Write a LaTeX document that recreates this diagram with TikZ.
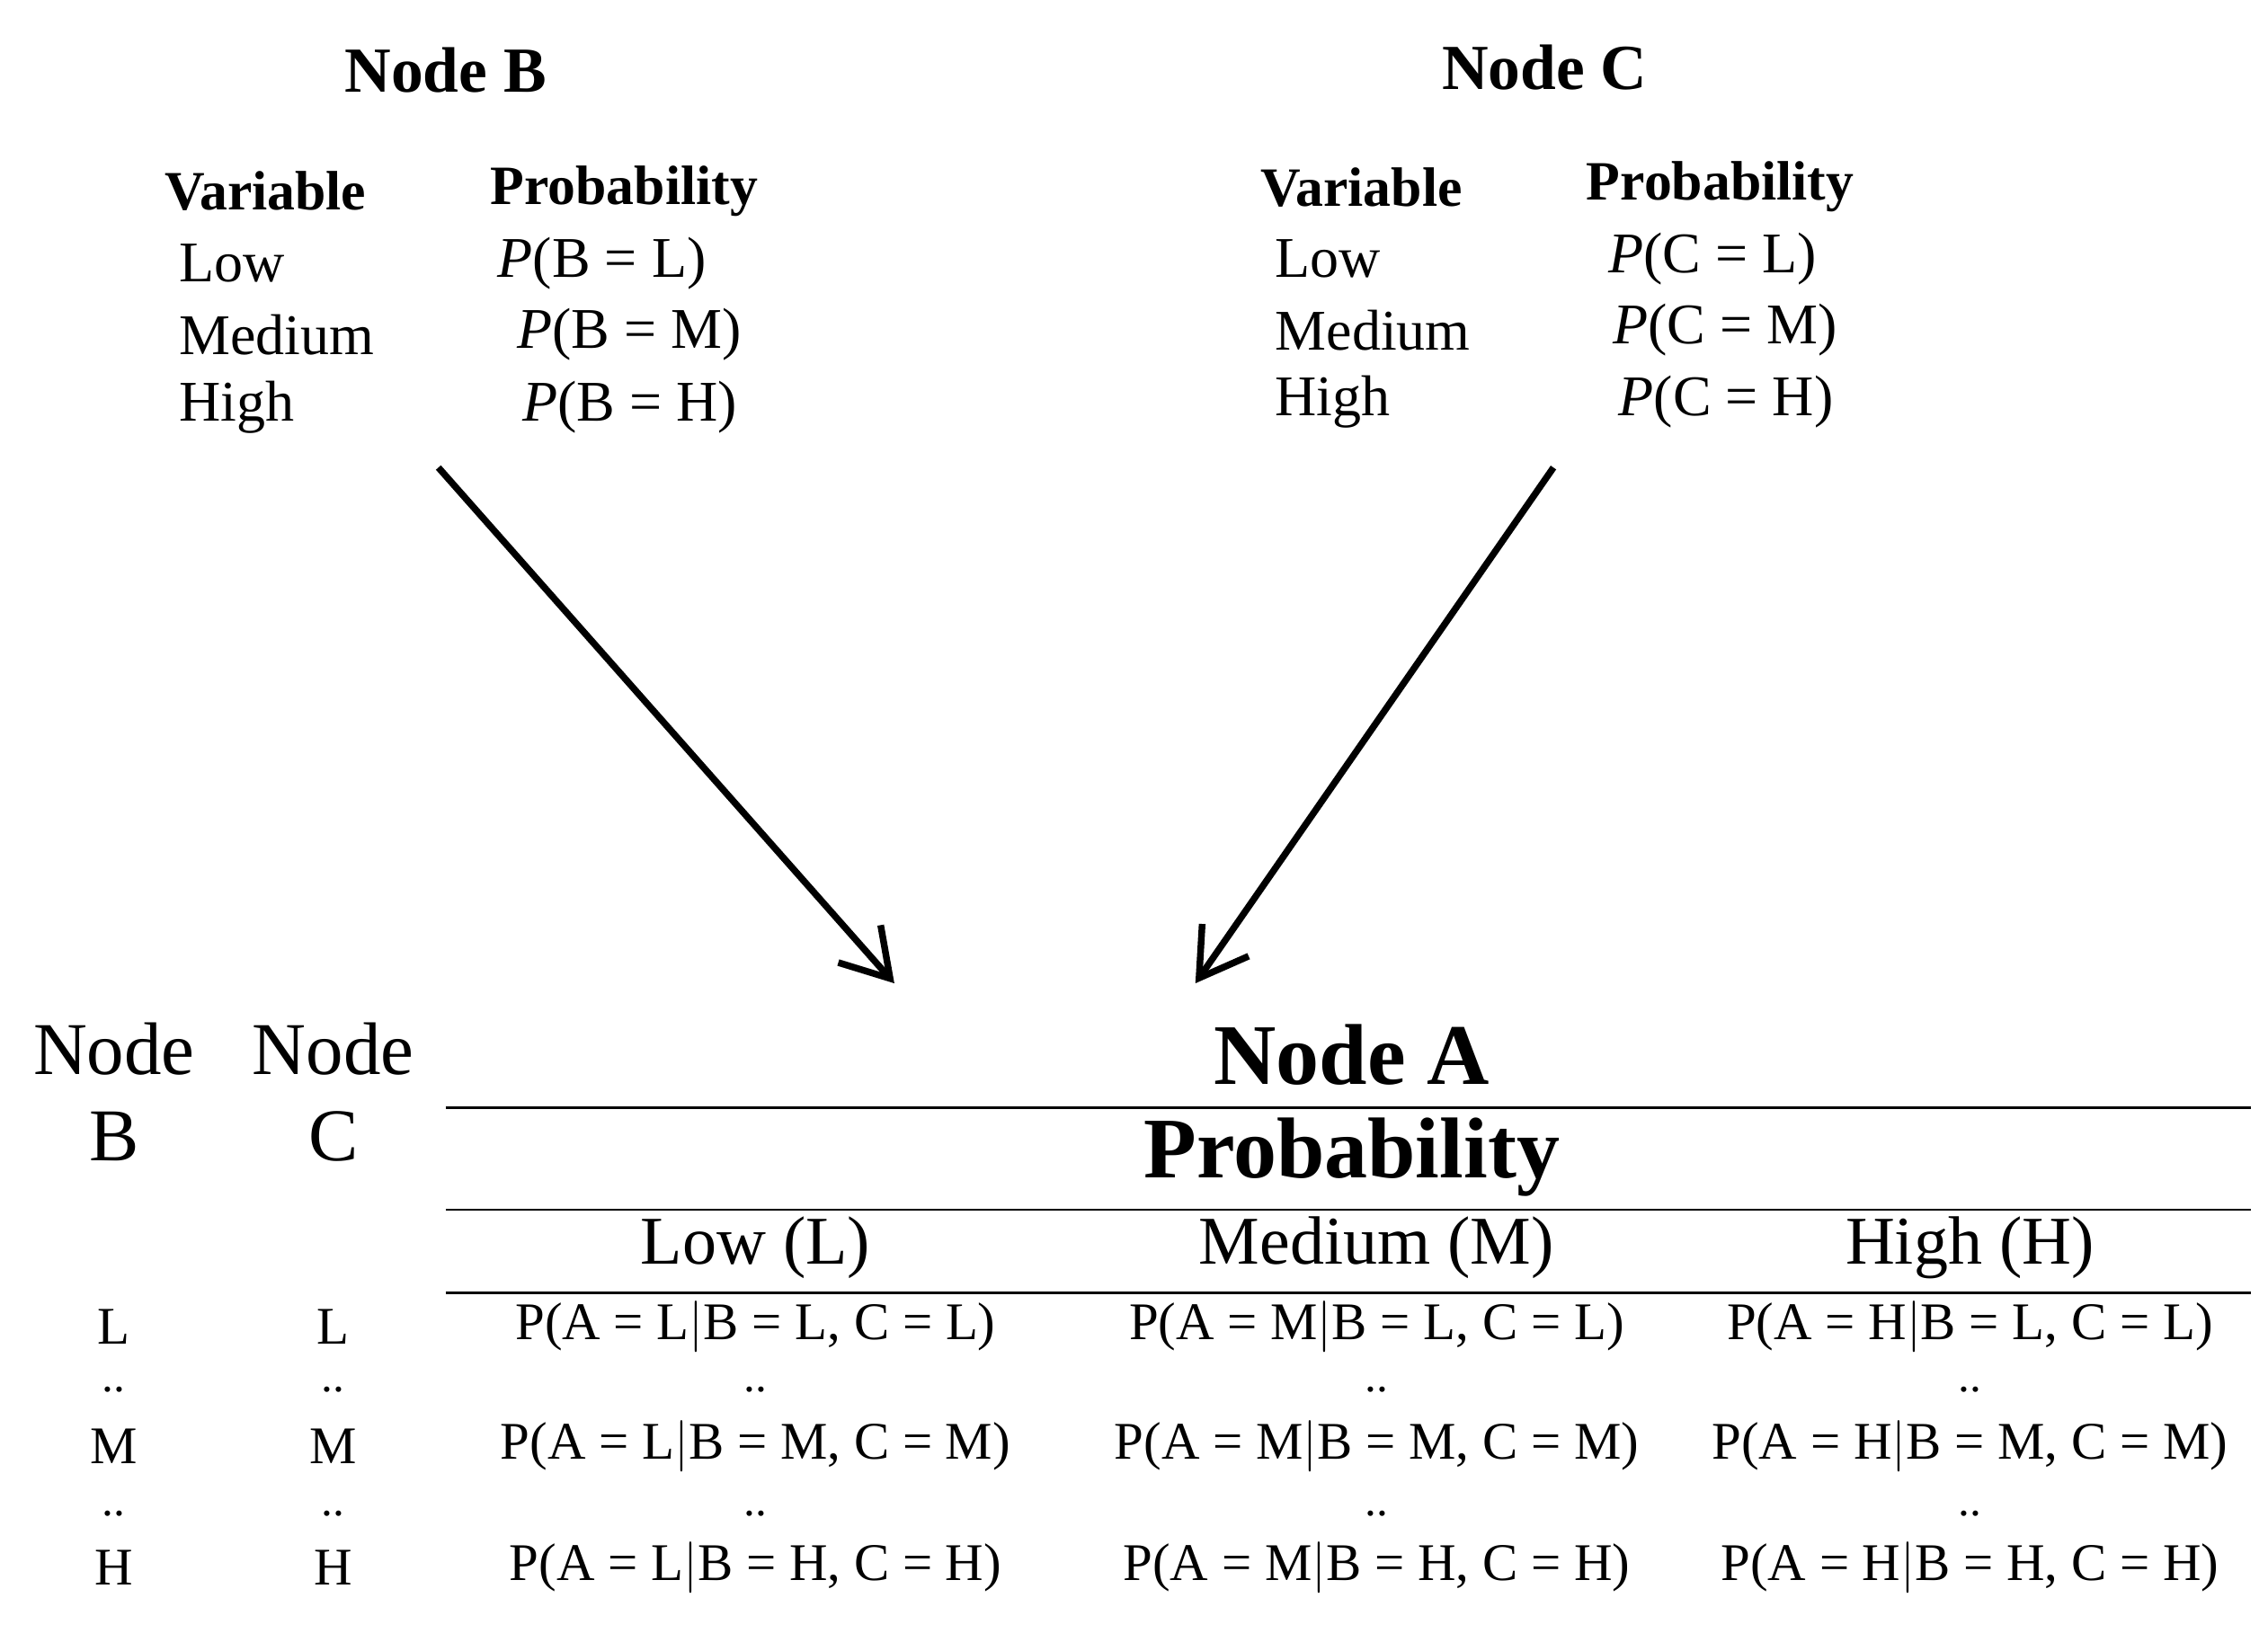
\documentclass[tikz,border=0pt]{standalone}
\usepackage{fontspec}
\setmainfont{Liberation Serif}
\usetikzlibrary{arrows.meta}
\begin{document}
\begin{tikzpicture}[x=0.01cm,y=-0.01cm,
  ttl/.style={font=\fontsize{12.5}{15}\selectfont\bfseries},
  hd/.style={font=\fontsize{10.8}{13}\selectfont\bfseries,anchor=west,inner sep=0pt},
  it/.style={font=\fontsize{11.2}{13}\selectfont,anchor=west,inner sep=0pt},
  col/.style={font=\fontsize{14.5}{17}\selectfont},
  big/.style={font=\fontsize{16.8}{20}\selectfont\bfseries},
  sub/.style={font=\fontsize{13.3}{16}\selectfont},
  cell/.style={font=\fontsize{10.3}{12}\selectfont,inner sep=1pt},
  dots/.style={font=\fontsize{9}{10}\selectfont,inner sep=0pt},
  arr/.style={line width=1.3pt,-{Straight Barb[length=9pt,width=11pt,line width=1.3pt]}},
  rl/.style={line width=0.5pt}]
\useasboundingbox (0,0) rectangle (1552,1130);
% Node B
\node[ttl] (nb) at (305,48) {Node B};
\node[hd] (bv) at (112,131) {Variable};
\node[hd] (bp) at (335,131) {Probability};
\node[it] (bl) at (122,180) {Low};
\node[it] (bm) at (122,229) {Medium};
\node[it] (bh) at (122,279) {High};
\node[it] (bpl) at (340,180) {\textit{P}(B = L)};
\node[it] (bpm) at (353,229) {\textit{P}(B = M)};
\node[it] (bph) at (357,279) {\textit{P}(B = H)};
% Node C
\node[ttl] (nc) at (1057,46) {Node C};
\node[hd] (cv) at (862,128) {Variable};
\node[hd] (cp) at (1085,128) {Probability};
\node[it] (cl) at (872,177) {Low};
\node[it] (cm) at (872,226) {Medium};
\node[it] (ch) at (872,275) {High};
\node[it] (cpl) at (1100,177) {\textit{P}(C = L)};
\node[it] (cpm) at (1103,226) {\textit{P}(C = M)};
\node[it] (cph) at (1107,275) {\textit{P}(C = H)};
% arrows
\coordinate (a1s) at (300,320); \coordinate (a1e) at (612,673);
\coordinate (a2s) at (1063,320); \coordinate (a2e) at (818,673);
\draw[arr] (a1s) -- (a1e);
\draw[arr] (a2s) -- (a2e);
% table
\node[col] (nb1) at (78,718) {Node};
\node[col] (nb2) at (78,778) {B};
\node[col] (nc1) at (228,718) {Node};
\node[col] (nc2) at (228,778) {C};
\node[big] (na) at (925,722) {Node A};
\node[big] (pr) at (925,792) {Probability};
\coordinate (l1a) at (305,758); \coordinate (l1b) at (1540,758);
\coordinate (l2a) at (305,828); \coordinate (l2b) at (1540,828);
\coordinate (l3a) at (305,885); \coordinate (l3b) at (1540,885);
\draw[rl] (l1a) -- (l1b);
\draw[rl] (l2a) -- (l2b);
\draw[rl] (l3a) -- (l3b);
\node[sub] (hl) at (517,854) {Low (L)};
\node[sub] (hm) at (942,854) {Medium (M)};
\node[sub] (hh) at (1348,854) {High (H)};
\foreach \y/\v in {908/L,990/M,1073/H}{
  \node[cell] at (78,\y) {\v};
  \node[cell] at (228,\y) {\v};
  \node[cell] at (517,\y) {P(A = L$|$B = \v, C = \v)};
  \node[cell] at (942,\y) {P(A = M$|$B = \v, C = \v)};
  \node[cell] at (1348,\y) {P(A = H$|$B = \v, C = \v)};
}
\foreach \y in {951,1036}{
  \foreach \x in {78,228,517,942,1348}{
    \node[dots] at (\x,\y) {..};
  }
}
\end{tikzpicture}
\end{document}
